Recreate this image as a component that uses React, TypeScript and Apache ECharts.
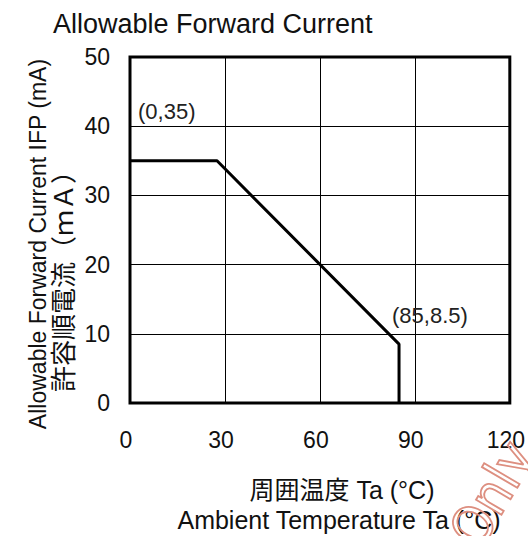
import React, { useEffect, useRef } from "react";
import * as echarts from "echarts";

const xTicks = [0, 30, 60, 90, 120];
const yTicks = [0, 10, 20, 30, 40, 50];
const curveX = [0, 27.5, 85, 85];
const curveY = [35, 35, 8.5, 0];
const annotations = [
  { coord: [0, 35], text: "(0,35)" },
  { coord: [85, 8.5], text: "(85,8.5)" },
];
const titleText = "Allowable Forward Current";
const xNameJa = "周囲温度 Ta (°C)";
const xNameEn = "Ambient Temperature Ta (°C)";
const yNameJa = "許容順電流（ｍＡ）";
const yNameEn = "Allowable Forward Current IFP (mA)";
const watermark = "Only";

const FONT = "'Liberation Sans', 'Noto Sans CJK JP', sans-serif";

export default function App() {
  const ref = useRef<HTMLDivElement>(null);
  useEffect(() => {
    if (!ref.current) return;
    const chart = echarts.init(ref.current, undefined, { renderer: "svg" });
    const offsets = [
      [8, -49],
      [-7, -29],
    ];
    chart.setOption({
      animation: false,
      backgroundColor: "#fff",
      grid: {
        left: 130,
        top: 57,
        width: 384,
        height: 346,
        show: true,
        borderColor: "#000",
        borderWidth: 3,
      },
      xAxis: {
        type: "value",
        min: xTicks[0],
        max: xTicks[xTicks.length - 1],
        interval: 30,
        axisLine: { show: false },
        axisTick: { show: false },
        splitLine: { show: true, lineStyle: { color: "#000", width: 1 } },
        axisLabel: {
          margin: 25,
          fontSize: 23,
          color: "#111",
          fontFamily: FONT,
          padding: [0, 8, 0, 0],
          showMaxLabel: true,
          showMinLabel: true,
        },
      },
      yAxis: {
        type: "value",
        min: yTicks[0],
        max: yTicks[yTicks.length - 1],
        interval: 10,
        axisLine: { show: false },
        axisTick: { show: false },
        splitLine: { show: true, lineStyle: { color: "#000", width: 1 } },
        axisLabel: {
          margin: 20,
          fontSize: 23,
          color: "#111",
          fontFamily: FONT,
        },
      },
      series: [
        {
          type: "line",
          data: curveX.map((x, i) => [x, curveY[i]]),
          symbol: "none",
          lineStyle: { color: "#000", width: 3 },
          z: 5,
          markPoint: {
            symbol: "circle",
            symbolSize: 0,
            data: annotations.map((a, i) => ({
              coord: a.coord,
              label: {
                show: true,
                formatter: a.text,
                position: offsets[i],
                align: "left",
                verticalAlign: "middle",
                fontSize: 22,
                color: "#222",
                fontFamily: FONT,
              },
            })),
          },
        },
      ],
      graphic: [
        {
          type: "text",
          x: 53,
          y: 24,
          style: {
            text: titleText,
            fontSize: 27,
            fontFamily: FONT,
            fill: "#111",
            align: "left",
            verticalAlign: "middle",
          },
        },
        {
          type: "text",
          x: 342,
          y: 490,
          style: {
            text: xNameJa,
            fontSize: 25,
            fontFamily: FONT,
            fill: "#111",
            align: "center",
            verticalAlign: "middle",
          },
        },
        {
          type: "text",
          x: 339,
          y: 520,
          style: {
            text: xNameEn,
            fontSize: 25,
            fontFamily: FONT,
            fill: "#111",
            align: "center",
            verticalAlign: "middle",
          },
        },
        {
          type: "text",
          x: 38,
          y: 244,
          rotation: Math.PI / 2,
          style: {
            text: yNameEn,
            fontSize: 23,
            fontFamily: FONT,
            fill: "#111",
            align: "center",
            verticalAlign: "middle",
          },
        },
        {
          type: "text",
          x: 61,
          y: 275,
          rotation: Math.PI / 2,
          style: {
            text: yNameJa,
            fontSize: 26,
            fontFamily: "'Noto Sans CJK JP', sans-serif",
            fill: "#111",
            align: "center",
            verticalAlign: "middle",
          },
        },
        {
          type: "text",
          x: 464,
          y: 542,
          rotation: 1.04,
          z: 100,
          style: {
            text: watermark,
            fontSize: 54,
            fontFamily: "'Liberation Sans Narrow', 'DejaVu Sans Condensed', 'Liberation Sans', sans-serif",
            fill: "rgba(255,255,255,0)",
            stroke: "#dd8f80",
            lineWidth: 1.8,
            align: "left",
            verticalAlign: "middle",
          },
        },
      ],
    });
    return () => chart.dispose();
  }, []);
  return (
    <div
      ref={ref}
      style={{ position: "fixed", left: 0, top: 0, width: 528, height: 536 }}
    />
  );
}
